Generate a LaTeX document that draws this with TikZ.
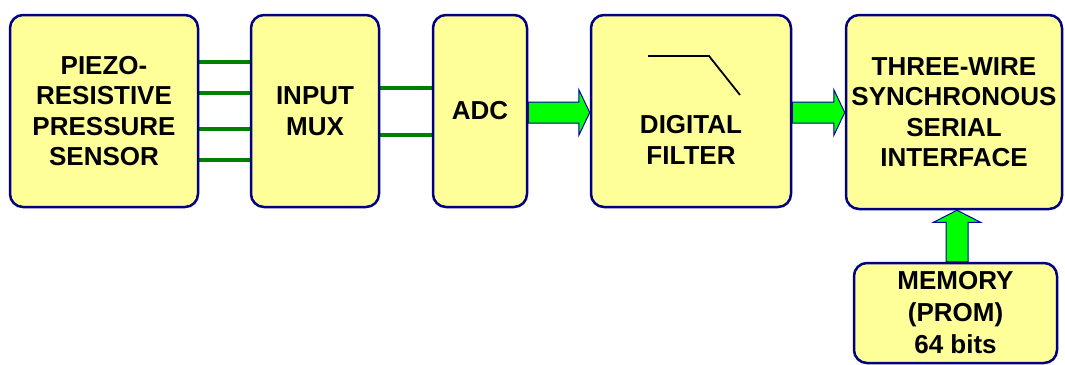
\documentclass[tikz,border=0pt]{standalone}
\usepackage{fontspec}
\setmainfont{Liberation Sans}
\usetikzlibrary{calc,backgrounds}
\definecolor{boxfill}{RGB}{255,255,153}
\definecolor{boxline}{RGB}{0,0,128}
\definecolor{wiregreen}{RGB}{0,128,0}
\definecolor{busgreen}{RGB}{0,255,0}
\definecolor{busline}{RGB}{0,0,170}
\tikzset{
  block/.style={draw=boxline, line width=2.5pt, fill=boxfill, rounded corners=13pt,
    align=center, inner sep=0pt, font=\fontsize{26}{30.5}\selectfont\bfseries},
  label/.style={align=center, inner sep=0pt, font=\fontsize{26}{30.5}\selectfont\bfseries},
  wire/.style={wiregreen, line width=4pt},
  bus/.style={fill=busgreen, draw=busline, line width=1pt, line join=miter},
}
% horizontal bus arrow: shaft half-width 10.5, head half-width 23, head length 11
\newcommand{\busright}[2]{%
  \draw[bus] ($(#1)+(0,-10.5)$) -- ($(#2)+(-11,-10.5)$) -- ($(#2)+(-11,-23)$) -- (#2)
    -- ($(#2)+(-11,23)$) -- ($(#2)+(-11,10.5)$) -- ($(#1)+(0,10.5)$) -- cycle;}
% vertical bus arrow pointing up (picture y grows downward)
\newcommand{\busup}[2]{%
  \draw[bus] ($(#1)+(-11,0)$) -- ($(#2)+(-11,12)$) -- ($(#2)+(-23.5,12)$) -- (#2)
    -- ($(#2)+(23.5,12)$) -- ($(#2)+(11,12)$) -- ($(#1)+(11,0)$) -- cycle;}
\begin{document}
\begin{tikzpicture}[x=1pt, y=-1pt]
\useasboundingbox (0,0) rectangle (1065,364);

% function blocks
\node[block, minimum width=188pt, minimum height=192pt] (sensor) at (104,111)
  {PIEZO-\\RESISTIVE\\PRESSURE\\SENSOR};
\node[block, minimum width=128pt, minimum height=192pt] (mux) at (315,111)
  {INPUT\\MUX};
\node[block, minimum width=94pt, minimum height=192pt] (adc) at (480,111)
  {ADC};
\node[block, minimum width=200pt, minimum height=192pt] (filter) at (691,111) {};
\node[label] (filtertext) at (691,140) {DIGITAL\\FILTER};
\node[block, minimum width=216pt, minimum height=194pt] (iface) at (954,112)
  {THREE-WIRE\\SYNCHRONOUS\\SERIAL\\INTERFACE};
\node[block, minimum width=203pt, minimum height=100pt,
  font=\fontsize{26}{32}\selectfont\bfseries] (memory) at (955.5,313)
  {MEMORY\\(PROM)\\64 bits};

% low-pass response sketch inside the filter block
\draw[line width=1.8pt] ($(filter.center)+(-43,-55)$) -- ($(filter.center)+(18,-55)$)
  -- ($(filter.center)+(49,-16)$);

\begin{scope}[on background layer]
  % analog channels
  \foreach \dy in {-49,-18,18,49}
    \draw[wire] ($(sensor.east)+(0,\dy)$) -- ($(mux.west)+(0,\dy)$);
  \foreach \dy in {-23,24}
    \draw[wire] ($(mux.east)+(0,\dy)$) -- ($(adc.west)+(0,\dy)$);
  % digital buses
  \busright{$(adc.east)+(0,1.5)$}{$(filter.west)+(0,1.5)$}
  \busright{$(filter.east)+(0,1.5)$}{$(iface.west)+(0,0.5)$}
  \busup{$(memory.north)+(1.5,0)$}{$(iface.south)+(3,0)$}
\end{scope}
\end{tikzpicture}
\end{document}
